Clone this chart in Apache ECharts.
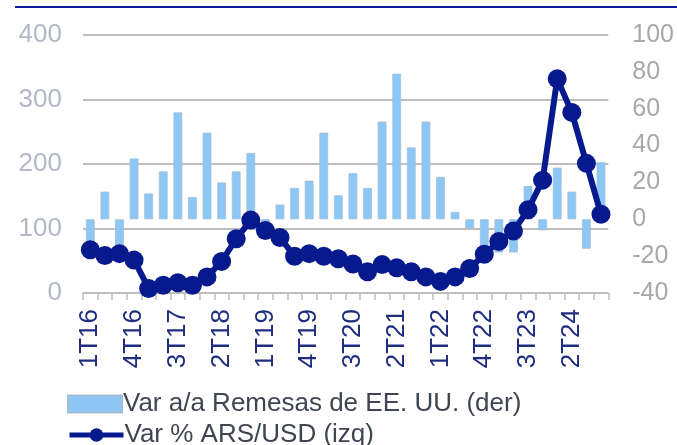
<!DOCTYPE html>
<html>
<head>
<meta charset="utf-8">
<script src="https://cdn.jsdelivr.net/npm/echarts@6/dist/echarts.min.js"></script>
<style>
  html, body { margin: 0; padding: 0; background: #fff; }
  #chart0 { width: 677px; height: 445px; }
</style>
</head>
<body>
<div id="chart0"></div>
<script>
// trimestres 1T16 .. 4T24
var quarters = [];
for (var y = 16; y <= 24; y++) {
  for (var q = 1; q <= 4; q++) quarters.push(q + 'T' + y);
}

// Var a/a Remesas de EE. UU. (der)
var remesas = [-15, 15, -15, 33, 14, 26, 58, 12, 47, 20, 26, 36,
  -5, 8, 17, 21, 47, 13, 25, 17, 53, 79, 39, 53,
  23, 4, -5, -17, -18, -18, 18, -6, 28, 15, -16, 31];

// Var % ARS/USD (izq)
var arsUsd = [67, 58, 61, 51, 7, 12, 16, 12, 25, 49, 84, 113,
  97, 86, 57, 61, 57, 53, 45, 33, 44, 39, 33, 25,
  18, 25, 38, 60, 80, 96, 129, 175, 332, 280, 201, 122];

var leftTicks = [0, 100, 400];   // min, interval, max
var rightTicks = [-40, 20, 100];

var font = 'Liberation Sans, Arial, sans-serif';
var navy = '#061a8e';
var legendText = {
  color: '#404552',
  fontFamily: font,
  fontSize: 26,
  padding: [0, 0, 0, -4]
};

var myChart = echarts.init(document.getElementById('chart0'));
var option = {
  animation: false,
  graphic: [{
    type: 'rect',
    shape: { x: 15, y: 6, width: 662, height: 2 },
    style: { fill: '#0c1d96' }
  }],
  grid: {
    left: 83,
    right: 68,
    top: 35,
    bottom: 152
  },
  legend: [{
    left: 62,
    top: 386,
    itemWidth: 54,
    itemHeight: 17,
    textStyle: legendText,
    data: [{ name: 'Var a/a Remesas de EE. UU. (der)', icon: 'rect' }]
  }, {
    left: 62,
    top: 417,
    itemWidth: 54,
    itemHeight: 17,
    textStyle: legendText,
    lineStyle: { width: 5 },
    data: [{ name: 'Var % ARS/USD (izq)' }]
  }],
  xAxis: {
    type: 'category',
    data: quarters,
    boundaryGap: true,
    axisLine: { lineStyle: { color: '#bdbdbd', width: 1.5 } },
    axisTick: { show: true, interval: 0, length: 7, lineStyle: { color: '#bdbdbd', width: 1.5 } },
    axisLabel: {
      interval: 2,
      rotate: 90,
      margin: 16,
      color: '#1f2d7f',
      fontFamily: font,
      fontSize: 26
    }
  },
  yAxis: [{
    type: 'value',
    position: 'left',
    min: leftTicks[0],
    interval: leftTicks[1],
    max: leftTicks[2],
    axisLine: { show: false },
    axisTick: { show: false },
    splitLine: { lineStyle: { color: '#a8a8a8', width: 1.5 } },
    axisLabel: {
      margin: 21,
      color: '#b3b8c6',
      fontFamily: font,
      fontSize: 26
    }
  }, {
    type: 'value',
    position: 'right',
    min: rightTicks[0],
    interval: rightTicks[1],
    max: rightTicks[2],
    axisLine: { show: false },
    axisTick: { show: false },
    splitLine: { show: false },
    axisLabel: {
      margin: 24,
      color: '#a8a8a8',
      fontFamily: font,
      fontSize: 25
    }
  }],
  series: [{
    name: 'Var a/a Remesas de EE. UU. (der)',
    type: 'bar',
    yAxisIndex: 1,
    barWidth: '60%',
    itemStyle: {
      color: '#8cc7f5',
      borderColor: '#a3bfd6',
      borderWidth: 0.8
    },
    data: remesas
  }, {
    name: 'Var % ARS/USD (izq)',
    type: 'line',
    yAxisIndex: 0,
    symbol: 'circle',
    symbolSize: 19,
    showSymbol: true,
    showAllSymbol: true,
    lineStyle: { color: navy, width: 6 },
    itemStyle: { color: navy },
    data: arsUsd
  }]
};
myChart.setOption(option);
window.addEventListener('resize', function () { myChart.resize(); });
</script>
</body>
</html>
